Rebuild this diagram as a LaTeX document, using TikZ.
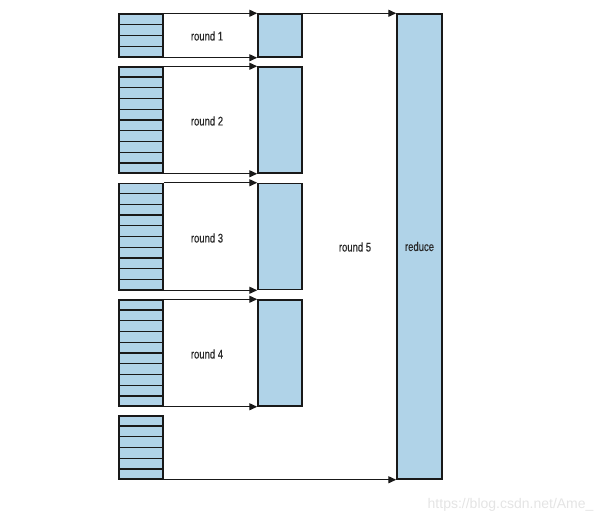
\documentclass[tikz,border=0pt]{standalone}
\usepackage{fontspec}
\setmainfont{Liberation Sans}[FakeStretch=0.76,FakeBold=0.4]
\newfontfamily\wmfont{Liberation Sans}
\usetikzlibrary{arrows.meta,positioning,calc}
\definecolor{boxblue}{RGB}{176,211,232}
\definecolor{edgegray}{RGB}{25,25,25}
\definecolor{labelgray}{RGB}{40,40,40}
\definecolor{markgray}{RGB}{228,228,228}

\begin{document}
\begin{tikzpicture}
  [x=1pt,y=-1pt,>={Triangle[length=8pt,width=7pt]},
   every node/.style={font=\fontsize{12.5}{14}\selectfont,text=labelgray},
   stack/.style={rectangle,draw=edgegray,line width=1.5pt,fill=boxblue,inner sep=0pt,minimum width=44pt},
   block/.style={stack},
   flow/.style={->,line width=1.4pt,draw=edgegray}]
  \useasboundingbox (0,0) rectangle (605,523);

  % input stacks
  \node (s1) [stack,minimum height=43pt] at (141,35.5) {};
  \node (s2) [stack,minimum height=106pt] at (141,120) {};
  \node (s3) [stack,minimum height=106pt] at (141,236.5) {};
  \node (s4) [stack,minimum height=106pt] at (141,353) {};
  \node (s5) [stack,minimum height=63pt] at (141,447.5) {};

  % rows inside the stacks
  \foreach \s/\n in {s1/4,s2/10,s3/10,s4/10,s5/6}
    \foreach \i in {1,...,\n}
      \draw[line width=1.4pt,draw=edgegray]
        ($(\s.north west)!\i/\n!(\s.south west)$) -- ($(\s.north east)!\i/\n!(\s.south east)$);

  % results of each round
  \node (m1) [block,minimum height=43pt] at (280,35.5) {};
  \node (m2) [block,minimum height=106pt] at (280,120) {};
  \node (m3) [block,minimum height=106pt] at (280,236.5) {};
  \node (m4) [block,minimum height=106pt] at (280,353) {};

  \node (red) [block,minimum width=45pt,minimum height=465pt] at (419.5,246.5) {reduce};

  \node (r1) at (207,36) {round 1};
  \node (r2) at (207,121) {round 2};
  \node (r3) at (207,238) {round 3};
  \node (r4) at (207,354) {round 4};
  \node (r5) at (355,247) {round 5};

  \foreach \k in {1,...,4}{
    \draw[flow] (s\k.north east) -- (m\k.north west);
    \draw[flow] (s\k.south east) -- (m\k.south west);
  }
  \draw[flow] (m1.north east) -- (red.north west);
  \draw[flow] (s5.south east) -- (red.south west);

  \node (mark) [anchor=east,text=markgray,font=\wmfont\fontsize{14}{16}\selectfont] at (597,505) {https://blog.csdn.net/Ame\_};
\end{tikzpicture}
\end{document}
